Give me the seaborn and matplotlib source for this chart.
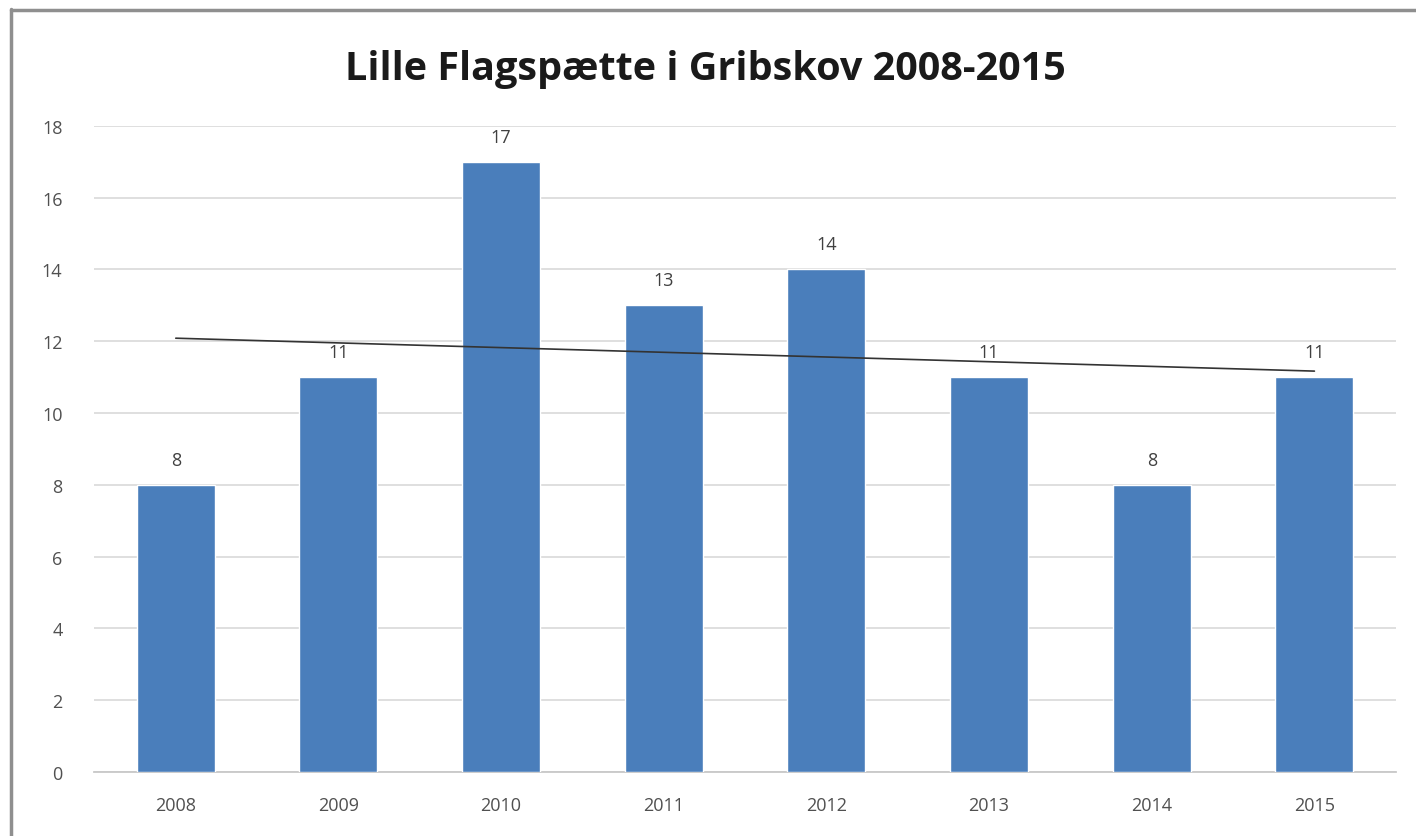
import numpy as np
import pandas as pd
import matplotlib
matplotlib.use("Agg")
import matplotlib.pyplot as plt
import seaborn as sns
from matplotlib.lines import Line2D

# Data
years = ["2008", "2009", "2010", "2011", "2012", "2013", "2014", "2015"]
counts = [8, 11, 17, 13, 14, 11, 8, 11]
title = "Lille Flagspætte i Gribskov 2008-2015"

df = pd.DataFrame({"year": years, "count": counts})

sns.set_theme(style="white")
plt.rcParams["font.family"] = ["Open Sans", "DejaVu Sans"]

fig = plt.figure(figsize=(14.16, 8.37), dpi=100)
ax = fig.add_axes([0.0667, 0.0765, 0.919, 0.772])

sns.barplot(data=df, x="year", y="count", color="#4a7ebb", saturation=1,
            width=0.48, ax=ax, zorder=3)

# linear trendline across the bars
xs = np.arange(len(counts))
slope, intercept = np.polyfit(xs, counts, 1)
ax.plot(xs, slope * xs + intercept, color="#333333", lw=1.2, zorder=4)

# value labels
for i, v in enumerate(counts):
    ax.text(i, v + 0.45, str(v), ha="center", va="bottom",
            fontsize=13, color="#404040")

ax.set_ylim(0, 18)
ax.set_yticks(range(0, 19, 2))
ax.set_xlim(-0.5, len(years) - 0.5)
ax.yaxis.grid(True, color="#d9d9d9", lw=1.2, zorder=0)
ax.set_axisbelow(True)
for s in ["top", "right", "left"]:
    ax.spines[s].set_visible(False)
ax.spines["bottom"].set_color("#c8c8c8")
ax.spines["bottom"].set_linewidth(1.3)
ax.tick_params(axis="both", length=0, labelsize=13, labelcolor="#505050")
ax.tick_params(axis="y", pad=23)
ax.tick_params(axis="x", pad=17)
ax.set_xlabel("")
ax.set_ylabel("")

fig.suptitle(title, x=0.498, y=0.94, fontsize=28.5, fontweight="bold",
             color="#1a1a1a")

# grey frame at top and left of the picture
fig.add_artist(Line2D([0.0075, 0.0075], [0.0, 0.988], transform=fig.transFigure,
                      color="#8f8f8f", lw=2.5))
fig.add_artist(Line2D([0.0075, 1.0], [0.987, 0.987], transform=fig.transFigure,
                      color="#8f8f8f", lw=2.5))

fig.savefig("out.png", dpi=100)
plt.close(fig)
